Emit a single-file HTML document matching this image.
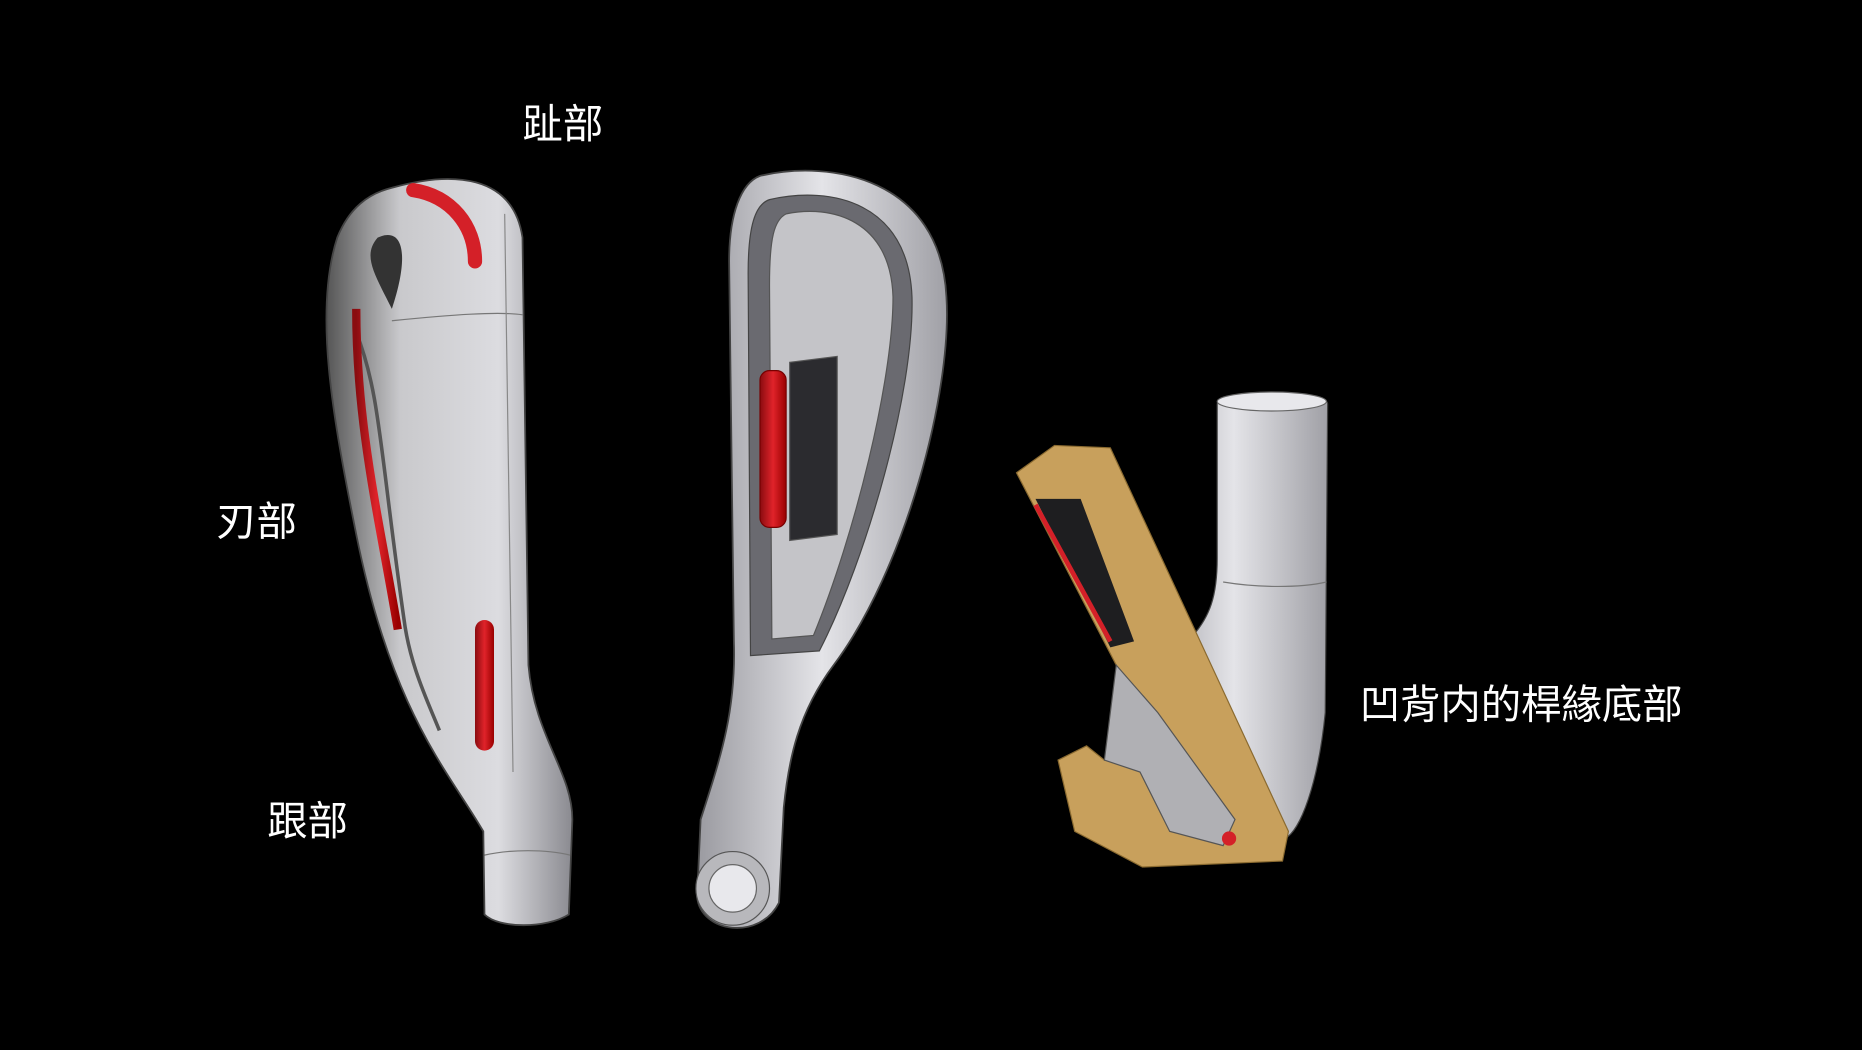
<!DOCTYPE html>
<html><head><meta charset="utf-8"><style>
html,body{margin:0;padding:0;background:#000;width:1862px;height:1050px;overflow:hidden}
svg{display:block}
text{font-family:"Liberation Sans","Noto Sans CJK TC","Noto Sans CJK SC",sans-serif;fill:#fff}
</style></head><body>
<svg width="1862" height="1050" viewBox="0 0 1568 884" xmlns="http://www.w3.org/2000/svg">
<defs>
<linearGradient id="g1" x1="0" y1="0" x2="1" y2="0">
<stop offset="0" stop-color="#555"/><stop offset="0.3" stop-color="#c9c9cc"/><stop offset="0.7" stop-color="#dcdce0"/><stop offset="1" stop-color="#8a8a90"/></linearGradient>
<linearGradient id="g2" x1="0" y1="0" x2="1" y2="0">
<stop offset="0" stop-color="#9a9aa0"/><stop offset="0.5" stop-color="#e4e4e8"/><stop offset="1" stop-color="#a0a0a6"/></linearGradient>
<linearGradient id="red" x1="0" y1="0" x2="1" y2="0">
<stop offset="0" stop-color="#8a0c10"/><stop offset="0.5" stop-color="#e0232a"/><stop offset="1" stop-color="#900"/></linearGradient>
</defs>
<rect width="1568" height="884" fill="#000"/>

<!-- Club 1 -->
<path d="M330,158 C380,144 432,146 440,200 L445,560 C450,620 482,650 482,690 L479,770 C460,782 420,782 408,770 L407,700 C378,650 330,600 300,450 C280,350 264,262 284,200 C294,175 310,163 330,158 Z" fill="url(#g1)" stroke="#444" stroke-width="1.5"/>
<path d="M318,200 C340,190 345,215 330,260 C315,230 305,215 318,200Z" fill="#333"/>
<path d="M300,280 C320,330 320,380 340,520 C345,560 360,590 370,615" fill="none" stroke="#555" stroke-width="3"/>
<path d="M300,260 C300,360 320,440 335,530" fill="none" stroke="url(#red)" stroke-width="7"/>
<path d="M348,160 C380,165 400,190 400,220" fill="none" stroke="#d42028" stroke-width="12" stroke-linecap="round"/>
<rect x="400" y="522" width="16" height="110" rx="8" fill="url(#red)"/>
<path d="M330,270 C380,265 420,262 440,265" fill="none" stroke="#777" stroke-width="1"/>
<path d="M425,180 L432,650" fill="none" stroke="#888" stroke-width="1"/>
<path d="M408,720 C430,715 460,715 480,720" fill="none" stroke="#777" stroke-width="1"/>

<!-- Club 2 -->
<path d="M640,148 C700,134 792,150 797,250 C802,330 762,480 702,560 C672,600 664,640 660,680 L656,760 C640,792 590,786 587,755 L590,690 C606,640 620,600 618,540 L614,220 C614,180 624,154 640,148 Z" fill="url(#g2)" stroke="#444" stroke-width="1.5"/>
<path d="M648,168 C700,156 765,170 768,250 C770,330 730,470 690,548 L632,552 L630,230 C630,190 636,172 648,168Z" fill="#6a6a70" stroke="#444"/>
<path d="M662,180 C700,172 750,185 752,250 C752,320 720,450 685,535 L650,538 L648,240 C648,200 652,185 662,180Z" fill="#c4c4c8" stroke="#555"/>
<path d="M665,305 L705,300 L705,450 L665,455 Z" fill="#2b2b2f" stroke="#555"/>
<rect x="640" y="312" width="22" height="132" rx="8" fill="url(#red)" stroke="#700"/>
<circle cx="617" cy="748" r="31" fill="#b8b8bc" stroke="#555"/>
<circle cx="617" cy="748" r="20" fill="#e8e8ec" stroke="#666"/>

<!-- Club 3 -->
<path d="M1025,340 C1025,328 1118,328 1118,340 L1116,600 C1110,660 1095,700 1082,706 L960,580 L1000,540 C1020,520 1025,500 1025,470 Z" fill="url(#g2)" stroke="#444"/>
<ellipse cx="1071" cy="338" rx="46" ry="8" fill="#e8e8ec" stroke="#666"/>
<path d="M1030,490 C1060,495 1095,495 1117,490" fill="none" stroke="#777"/>
<path d="M856,398 L888,375 L935,377 L1085,700 L1080,725 L962,730 L905,700 L891,640 L915,628 L930,640 L950,600 L940,560 Z" fill="#c8a05c" stroke="#8a6a30"/>
<path d="M872,420 L910,420 L955,540 L935,545 Z" fill="#1e1e20"/>
<path d="M872,425 L935,540" stroke="#d42028" stroke-width="4"/>
<path d="M940,560 L975,600 L1040,690 L1030,712 L985,700 L960,650 L930,640 Z" fill="#b0b0b4" stroke="#555"/>
<circle cx="1035" cy="706" r="6" fill="#d42028"/>

<text x="440" y="116" font-size="34">趾部</text>
<text x="182" y="451" font-size="34">刃部</text>
<text x="225" y="703" font-size="34">跟部</text>
<text x="1145" y="605" font-size="34">凹背内的桿緣底部</text>
</svg>
</body></html>
